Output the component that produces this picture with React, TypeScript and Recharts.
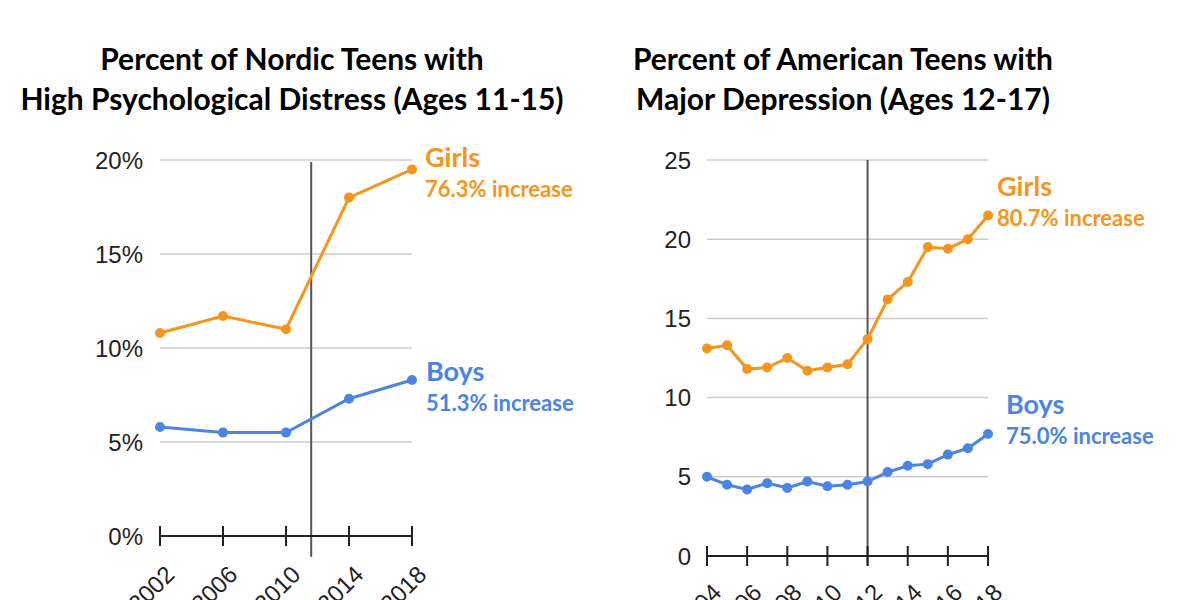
import { LineChart, Line, XAxis, YAxis, CartesianGrid, ReferenceLine } from "recharts";

const nordicYears = [2002, 2006, 2010, 2014, 2018];
const nordicGirls = [10.8, 11.7, 11.0, 18.0, 19.5];
const nordicBoys = [5.8, 5.5, 5.5, 7.3, 8.3];
const nordicYTicks = [0, 5, 10, 15, 20];

const usYears = [2004, 2005, 2006, 2007, 2008, 2009, 2010, 2011, 2012, 2013, 2014, 2015, 2016, 2017, 2018];
const usGirls = [13.1, 13.3, 11.8, 11.9, 12.5, 11.7, 11.9, 12.1, 13.7, 16.2, 17.3, 19.5, 19.4, 20.0, 21.5];
const usBoys = [5.0, 4.5, 4.2, 4.6, 4.3, 4.7, 4.4, 4.5, 4.7, 5.3, 5.7, 5.8, 6.4, 6.8, 7.7];
const usXTicks = [2004, 2006, 2008, 2010, 2012, 2014, 2016, 2018];
const usYTicks = [0, 5, 10, 15, 20, 25];

const nordicData = nordicYears.map((year, i) => ({ year, girls: nordicGirls[i], boys: nordicBoys[i] }));
const usData = usYears.map((year, i) => ({ year, girls: usGirls[i], boys: usBoys[i] }));

const ORANGE = "#f6941c";
const BLUE = "#4a84e4";
const INK = "#222";
const tickFont = "'Liberation Sans', Arial, sans-serif";
const titleFont = "Lato, 'Open Sans', sans-serif";

const XTick = (props: any) => {
  const { x, y, payload, dy = 0 } = props;
  const ax = x + 16;
  const ay = y + 40 + dy;
  return (
    <g>
      <line x1={x} x2={x} y1={y - 10} y2={y + 10} stroke={INK} strokeWidth={2} />
      <text
        x={ax}
        y={ay}
        transform={`rotate(-45 ${ax} ${ay})`}
        textAnchor="end"
        fontFamily={tickFont}
        fontSize={24}
        fill={INK}
      >
        {payload.value}
      </text>
    </g>
  );
};

const title: React.CSSProperties = {
  position: "absolute",
  width: 600,
  textAlign: "center",
  fontFamily: titleFont,
  fontWeight: 700,
  fontSize: 30,
  lineHeight: "40px",
  color: "#000",
};

const label = (color: string, left: number, top: number, big: string, small: string) => (
  <div style={{ position: "absolute", left, top, color, fontFamily: titleFont, fontWeight: 700 }}>
    <div style={{ fontSize: 27, lineHeight: "32px" }}>{big}</div>
    <div style={{ fontSize: 22, lineHeight: "32px" }}>{small}</div>
  </div>
);

export default function App() {
  return (
    <div style={{ position: "absolute", left: 0, top: 0, width: 1200, height: 600, background: "#fff", overflow: "hidden" }}>
      <div style={{ ...title, left: -8, top: 38 }}>
        Percent of Nordic Teens with
        <br />
        High Psychological Distress (Ages 11-15)
      </div>
      <div style={{ ...title, left: 543, top: 38 }}>
        Percent of American Teens with
        <br />
        Major Depression (Ages 12-17)
      </div>

      <div style={{ position: "absolute", left: 0, top: 0 }}>
        <LineChart width={600} height={600} data={nordicData} margin={{ top: 160, right: 188, bottom: 34, left: 100 }}>
          <CartesianGrid vertical={false} stroke="#cccccc" strokeWidth={1.5} />
          <XAxis
            dataKey="year"
            type="number"
            domain={[2002, 2018]}
            ticks={nordicYears}
            height={30}
            tickSize={0}
            tickMargin={0}
            tickLine={false}
            axisLine={{ stroke: INK, strokeWidth: 2 }}
            tick={<XTick />}
          />
          <YAxis
            domain={[0, 20]}
            ticks={nordicYTicks}
            width={60}
            axisLine={false}
            tickLine={false}
            tickSize={0}
            tickMargin={17}
            tickFormatter={(v: number) => `${v}%`}
            tick={{ fill: INK, fontSize: 24, fontFamily: tickFont }}
          />
          <ReferenceLine
            segment={[{ x: 2011.6, y: 19.9 }, { x: 2011.6, y: -1.1 }]}
            stroke="#555"
            strokeWidth={2}
            ifOverflow="visible"
          />
          <Line dataKey="girls" stroke={ORANGE} strokeWidth={3} dot={{ r: 3.5, fill: ORANGE, stroke: ORANGE }} isAnimationActive={false} />
          <Line dataKey="boys" stroke={BLUE} strokeWidth={3} dot={{ r: 3.5, fill: BLUE, stroke: BLUE }} isAnimationActive={false} />
        </LineChart>
      </div>

      <div style={{ position: "absolute", left: 600, top: 0 }}>
        <LineChart width={600} height={600} data={usData} margin={{ top: 160, right: 212, bottom: 14, left: 47 }}>
          <CartesianGrid vertical={false} stroke="#cccccc" strokeWidth={1.5} />
          <XAxis
            dataKey="year"
            type="number"
            domain={[2004, 2018]}
            ticks={usXTicks}
            height={30}
            tickSize={0}
            tickMargin={0}
            tickLine={false}
            axisLine={{ stroke: INK, strokeWidth: 2 }}
            tick={<XTick dy={-2} />}
          />
          <YAxis
            domain={[0, 25]}
            ticks={usYTicks}
            width={60}
            axisLine={false}
            tickLine={false}
            tickSize={0}
            tickMargin={16}
            tick={{ fill: INK, fontSize: 24, fontFamily: tickFont }}
          />
          <ReferenceLine
            segment={[{ x: 2012, y: 25 }, { x: 2012, y: -0.6 }]}
            stroke="#555"
            strokeWidth={2}
            ifOverflow="visible"
          />
          <Line dataKey="girls" stroke={ORANGE} strokeWidth={3} dot={{ r: 3.5, fill: ORANGE, stroke: ORANGE }} isAnimationActive={false} />
          <Line dataKey="boys" stroke={BLUE} strokeWidth={3} dot={{ r: 3.5, fill: BLUE, stroke: BLUE }} isAnimationActive={false} />
        </LineChart>
      </div>

      {label(ORANGE, 425, 141, "Girls", "76.3% increase")}
      {label(BLUE, 426, 355, "Boys", "51.3% increase")}
      {label(ORANGE, 997, 170, "Girls", "80.7% increase")}
      {label(BLUE, 1006, 388, "Boys", "75.0% increase")}
    </div>
  );
}
